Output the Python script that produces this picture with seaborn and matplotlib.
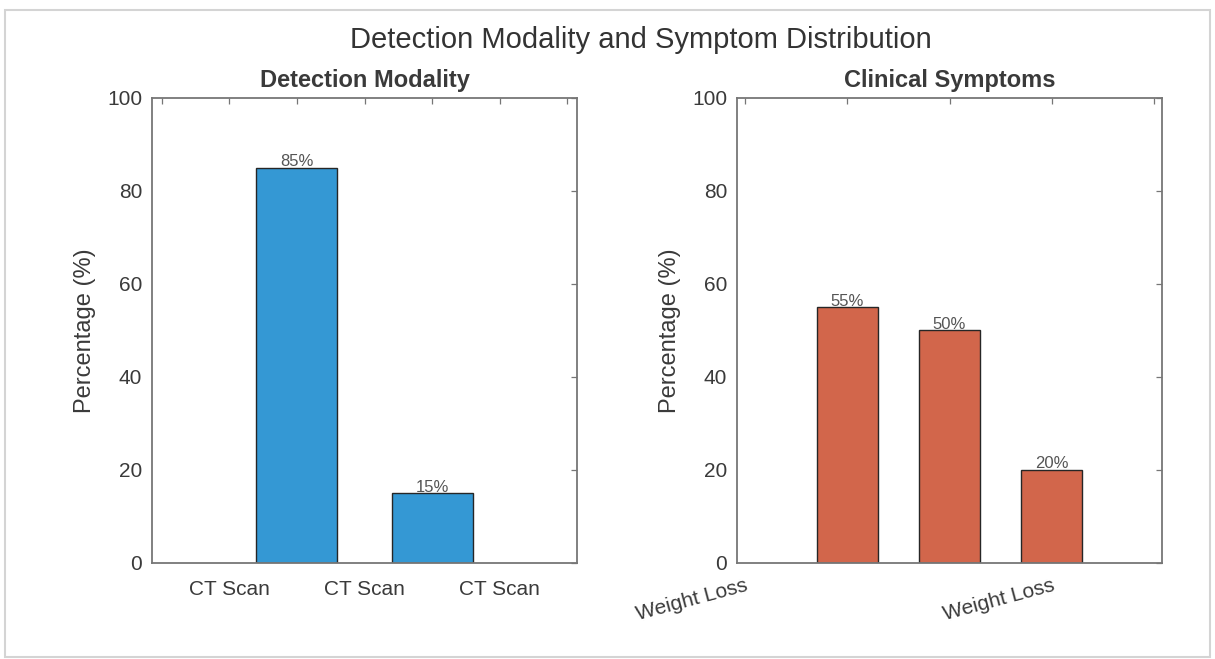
import matplotlib
matplotlib.use("Agg")
import matplotlib.pyplot as plt
from matplotlib.patches import Rectangle
import seaborn as sns

# Detection modality panel
modality_pos = [1, 2]
modality_pct = [85, 15]
modality_ticks = [0.5, 1.5, 2.5]
modality_ticklabels = ["CT Scan", "CT Scan", "CT Scan"]
modality_minor = [0, 1, 2, 3]

# Clinical symptoms panel
symptom_pos = [1, 2, 3]
symptom_pct = [55, 50, 20]
symptom_ticks = [0, 1, 2, 3, 4]
symptom_ticklabels = ["Weight Loss", "", "", "Weight Loss", ""]

y_ticks = [0, 20, 40, 60, 80, 100]

sns.set_style("white")
plt.rcParams["font.family"] = ["Liberation Sans", "DejaVu Sans"]

BLUE = "#3498d4"
RED = "#d2664b"
AX_GRAY = "#767676"
TXT = "#3a3a3a"

fig = plt.figure(figsize=(12.15, 6.59), dpi=100)
fig.patch.set_facecolor("white")

ax1 = fig.add_axes([0.1251, 0.1457, 0.3498, 0.7056])
ax2 = fig.add_axes([0.6066, 0.1457, 0.3498, 0.7056])


def style_axis(ax):
    for sp in ax.spines.values():
        sp.set_visible(True)
        sp.set_color(AX_GRAY)
        sp.set_linewidth(1.3)
    ax.set_ylim(0, 100)
    ax.set_yticks(y_ticks)
    ax.tick_params(axis="both", which="both", direction="in", length=4,
                   width=0.9, color=AX_GRAY, top=True, right=True,
                   labelsize=15, labelcolor=TXT)
    ax.tick_params(axis="y", pad=7)
    ax.set_ylabel("Percentage (%)", fontsize=17, color=TXT, labelpad=8)
    ax.set_facecolor("white")


sns.barplot(x=modality_pos, y=modality_pct, native_scale=True, width=0.6,
            color=BLUE, saturation=1, edgecolor="#262626", linewidth=1.0,
            ax=ax1)
ax1.bar_label(ax1.containers[0], labels=[f"{v}%" for v in modality_pct],
              padding=-1, fontsize=12, color="#555555")
style_axis(ax1)
ax1.set_xlim(-0.074, 3.074)
ax1.set_xticks(modality_ticks)
ax1.set_xticklabels(modality_ticklabels)
ax1.set_xticks(modality_minor, minor=True)
ax1.tick_params(axis="x", pad=12)
ax1.set_xlabel("")
ax1.set_title("Detection Modality", fontsize=17, fontweight="bold",
              color=TXT, pad=8)

sns.barplot(x=symptom_pos, y=symptom_pct, native_scale=True, width=0.6,
            color=RED, saturation=1, edgecolor="#262626", linewidth=1.0,
            ax=ax2)
ax2.bar_label(ax2.containers[0], labels=[f"{v}%" for v in symptom_pct],
              padding=-1, fontsize=12, color="#555555")
style_axis(ax2)
ax2.set_xlim(-0.08, 4.08)
ax2.set_xticks(symptom_ticks)
ax2.set_xticklabels(symptom_ticklabels, rotation=15, ha="right",
                    rotation_mode="anchor")
ax2.tick_params(axis="x", pad=9)
ax2.set_xlabel("")
ax2.set_title("Clinical Symptoms", fontsize=17, fontweight="bold",
              color=TXT, pad=8)

fig.text(0.5276, 0.940, "Detection Modality and Symptom Distribution",
         ha="center", va="center", fontsize=21, color="#333333")

# light frame around the whole figure
fig.add_artist(Rectangle((0.0041, 0.003), 0.9918, 0.9818,
                         transform=fig.transFigure, fill=False,
                         edgecolor="#d4d4d4", linewidth=1.5))

fig.savefig("out.png", dpi=100, facecolor="white")
